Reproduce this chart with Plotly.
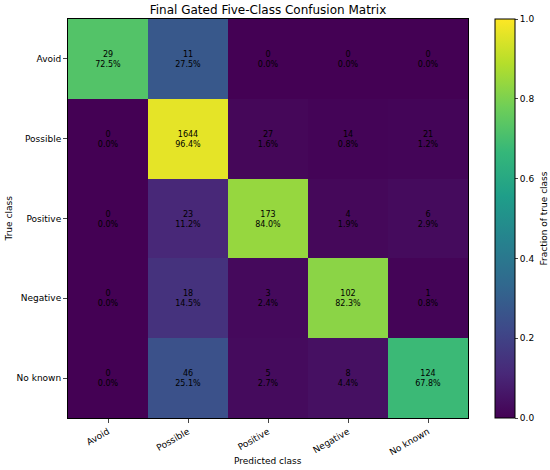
import plotly.graph_objects as go

# Class labels (rows = true class, columns = predicted class)
classes = ["Avoid", "Possible", "Positive", "Negative", "No known"]

# Confusion matrix counts, one list per true class
row_avoid = [29, 11, 0, 0, 0]
row_possible = [0, 1644, 27, 14, 21]
row_positive = [0, 23, 173, 4, 6]
row_negative = [0, 18, 3, 102, 1]
row_no_known = [0, 46, 5, 8, 124]

counts = [row_avoid, row_possible, row_positive, row_negative, row_no_known]

# Row-normalised fractions and cell labels
fractions = []
labels = []
for row in counts:
    total = sum(row)
    frac = [v / total for v in row]
    fractions.append(frac)
    labels.append([f"{v}<br>{f * 100:.1f}%" for v, f in zip(row, frac)])

# plot area in pixels (matches the matplotlib layout)
L, R, T, B = 68, 468, 19, 418
W, H = 550, 470

fig = go.Figure(
    go.Heatmap(
        z=fractions,
        x=classes,
        y=classes,
        text=labels,
        texttemplate="%{text}",
        textfont=dict(size=8, color="black"),
        colorscale="Viridis",
        zmin=0,
        zmax=1,
        colorbar=dict(
            x=(495 - L) / (R - L),
            xanchor="left",
            y=0.5,
            len=1,
            lenmode="fraction",
            xpad=0,
            ypad=0,
            thickness=20,
            outlinecolor="black",
            outlinewidth=1,
            tickvals=[0, 0.2, 0.4, 0.6, 0.8, 1.0],
            ticktext=["0.0", "0.2", "0.4", "0.6", "0.8", "1.0"],
            ticks="outside",
            ticklen=3,
            tickfont=dict(size=9),
        ),
    )
)

fig.update_layout(
    width=W,
    height=H,
    margin=dict(l=L, r=W - R, t=T, b=H - B),
    paper_bgcolor="white",
    plot_bgcolor="white",
    font=dict(family="DejaVu Sans", size=9, color="black"),
    title=dict(
        text="Final Gated Five-Class Confusion Matrix",
        x=(L + R) / 2 / W,
        xanchor="center",
        y=1 - 10 / H,
        yanchor="middle",
        font=dict(size=12),
    ),
)

# axis titles as annotations so the plot area is not pushed around
fig.add_annotation(
    text="Predicted class", xref="paper", yref="paper",
    x=0.5, y=(B - 461) / (B - T), showarrow=False,
    xanchor="center", yanchor="middle", font=dict(size=9),
)
fig.add_annotation(
    text="True class", xref="paper", yref="paper",
    x=(8 - L) / (R - L), y=0.5, showarrow=False, textangle=-90,
    xanchor="center", yanchor="middle", font=dict(size=9),
)
fig.add_annotation(
    text="Fraction of true class", xref="paper", yref="paper",
    x=(543 - L) / (R - L), y=0.5, showarrow=False, textangle=-90,
    xanchor="center", yanchor="middle", font=dict(size=9),
)

fig.update_xaxes(
    tickangle=-30,
    ticks="outside",
    ticklen=4,
    showline=True,
    linecolor="black",
    mirror=True,
    automargin=False,
    tickfont=dict(size=9),
)
fig.update_yaxes(
    autorange="reversed",
    ticks="outside",
    ticklen=4,
    showline=True,
    linecolor="black",
    mirror=True,
    automargin=False,
    tickfont=dict(size=9),
)

# drop the default page margin so the figure fills the window
fig.write_html(
    "out.html",
    config={"displayModeBar": False},
    post_script="document.body.style.margin = '0';",
)
